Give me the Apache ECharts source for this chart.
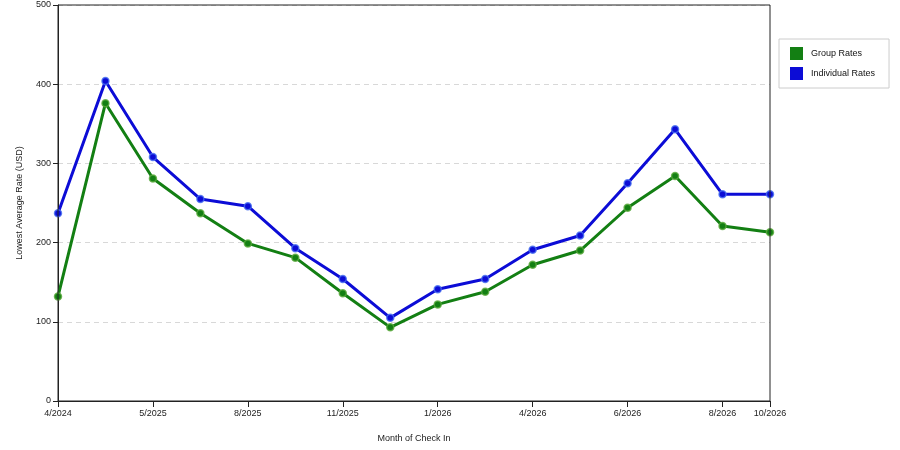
<!DOCTYPE html>
<html>
<head>
<meta charset="utf-8">
<script src="https://cdn.jsdelivr.net/npm/echarts@6/dist/echarts.min.js"></script>
<style>html,body{margin:0;padding:0;background:#fff;}#c{width:900px;height:450px;}</style>
</head>
<body>
<div id="c"></div>
<script>
var months = ['4/2024','4/2025','5/2025','7/2025','8/2025','10/2025','11/2025','12/2025','1/2026','3/2026','4/2026','5/2026','6/2026','7/2026','8/2026','10/2026'];
var shownLabels = ['4/2024','5/2025','8/2025','11/2025','1/2026','4/2026','6/2026','8/2026','10/2026'];
var groupRates = [132, 376, 281, 237, 199, 181, 136, 93, 122, 138, 172, 190, 244, 284, 221, 213];
var individualRates = [237, 404, 308, 255, 246, 193, 154, 105, 141, 154, 191, 209, 275, 343, 261, 261];
var yTicks = [0, 100, 200, 300, 400, 500];

var FONT = 'Liberation Sans, Arial, sans-serif';
function isShown(i, v){ return shownLabels.indexOf(v) >= 0; }

var chart = echarts.init(document.getElementById('c'), null, {renderer:'canvas'});
chart.setOption({
  animation: false,
  backgroundColor: '#fff',
  grid: {left: 58, right: 130, top: 5, bottom: 49, show: true, borderColor: '#222', borderWidth: 1, backgroundColor: 'transparent', z: 5},
  legend: {
    orient: 'vertical', left: 779, top: 39,
    width: 110,
    padding: [8, 14, 8, 11],
    itemGap: 7,
    itemWidth: 13, itemHeight: 13,
    icon: 'rect',
    itemStyle: {borderWidth: 0},
    borderColor: '#cccccc', borderWidth: 1,
    textStyle: {fontFamily: FONT, fontSize: 9, color: '#111', lineHeight: 13, padding: [0, 0, 0, 3]},
    data: ['Group Rates', 'Individual Rates']
  },
  xAxis: {
    type: 'category',
    data: months,
    boundaryGap: false,
    name: 'Month of Check In',
    nameLocation: 'middle',
    nameGap: 33,
    nameTextStyle: {fontFamily: FONT, fontSize: 9, color: '#222'},
    axisLine: {lineStyle: {color: '#222', width: 1}},
    axisTick: {show: true, interval: isShown, length: 6, lineStyle: {color: '#222'}},
    axisLabel: {interval: isShown, fontFamily: FONT, fontSize: 9, color: '#222', margin: 8},
    splitLine: {show: false}
  },
  yAxis: {
    type: 'value',
    min: yTicks[0], max: yTicks[yTicks.length-1], interval: 100,
    name: 'Lowest Average Rate (USD)',
    nameLocation: 'middle',
    nameGap: 34,
    nameRotate: 90,
    nameTextStyle: {fontFamily: FONT, fontSize: 9, color: '#222'},
    axisLine: {show: true, lineStyle: {color: '#222', width: 1}},
    axisTick: {show: true, length: 5, lineStyle: {color: '#222'}},
    axisLabel: {fontFamily: FONT, fontSize: 9, color: '#222', margin: 7},
    splitLine: {show: true, lineStyle: {color: '#d8d8d8', type: [5, 4], width: 1}}
  },
  series: [
    {
      name: 'Group Rates', type: 'line', data: groupRates,
      symbol: 'circle', symbolSize: 7, showAllSymbol: true,
      lineStyle: {color: '#137f13', width: 3},
      itemStyle: {color: '#137f13', borderColor: 'rgba(90,170,60,0.8)', borderWidth: 1.5},
      z: 2
    },
    {
      name: 'Individual Rates', type: 'line', data: individualRates,
      symbol: 'circle', symbolSize: 7, showAllSymbol: true,
      lineStyle: {color: '#0c0cd6', width: 3},
      itemStyle: {color: '#0c0cd6', borderColor: 'rgba(70,110,240,0.8)', borderWidth: 1.5},
      z: 3
    }
  ]
});
</script>
</body>
</html>
